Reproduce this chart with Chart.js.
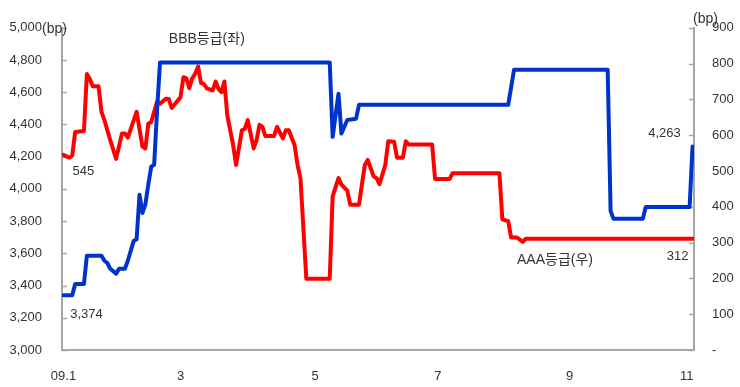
<!DOCTYPE html>
<html><head><meta charset="utf-8">
<script src="https://cdn.jsdelivr.net/npm/chart.js@4.4.1/dist/chart.umd.min.js"></script>
<style>html,body{margin:0;padding:0;background:#fff}</style>
</head><body>
<canvas id="c" width="740" height="387"></canvas>
<script>
// x values are business-day indices since the first trading day of 2009
const bbbDays   = [0,3,4,7,8,13,14,15,16,18,19,21,22,24,25,26,27,28,29,30,31,32,33,91,92,94,95,97,100,101,152,154,186,187,188,198,199,214,215];
const bbbValues = [3340,3340,3410,3410,3585,3585,3554,3540,3504,3474,3504,3504,3554,3677,3687,3964,3851,3904,4027,4138,4150,4489,4785,4785,4323,4590,4344,4428,4436,4522,4522,4740,4740,3862,3814,3814,3888,3888,4263];

const aaaDays   = [0,2,3,4,7,8,9,10,12,13,14,16,18,20,21,22,25,27,28,29,30,32,33,35,36,37,40,41,42,43,44,45,46,47,48,49,51,52,53,54,55,56,58,59,61,62,63,65,66,67,68,69,72,73,75,76,77,79,80,81,83,91,92,94,95,97,98,101,103,104,106,107,108,110,111,113,114,116,117,118,126,127,132,133,149,150,152,153,155,157,158,215];
const aaaValues = [545,537,543,609,612,771,757,737,737,665,642,586,534,605,605,593,665,568,563,632,637,694,688,702,701,676,706,762,759,731,759,771,792,746,743,731,725,750,729,720,750,655,572,517,614,618,642,563,586,629,623,598,598,623,591,614,614,572,517,480,199,199,429,480,462,445,406,406,517,531,485,480,463,517,583,582,537,537,583,574,574,478,478,494,494,365,360,314,314,302,311,311];

const seriesNames = ['BBB등급(좌)', 'AAA등급(우)'];
const tickDays   = [0, 40, 86, 128, 173, 213];
const tickLabels = ['09.1', '3', '5', '7', '9', '11'];
const unitLabel  = '(bp)';
const bbbFirstLabel = '3,374';
const bbbLastLabel  = '4,263';
const aaaFirstLabel = '545';
const aaaLastLabel  = '312';

const BLUE = '#0033cc', RED = '#ff0000', AXIS = '#a6a6a6', TXT = '#333333';
const FONT = '"Liberation Sans", Arial, "Noto Sans CJK KR", sans-serif';
const KFONT = '"Liberation Sans", "Noto Sans CJK KR", sans-serif';

const pts = (xs, ys) => xs.map((x, i) => ({x, y: ys[i]}));

const decor = {
  id: 'decor',
  beforeDatasetsDraw(chart) {
    const ctx = chart.ctx, a = chart.chartArea;
    const L = chart.scales.yL, R = chart.scales.yR;
    ctx.save();
    ctx.strokeStyle = AXIS; ctx.lineWidth = 1.5;
    L.ticks.forEach(t => { const y = Math.round(L.getPixelForValue(t.value)) + 0.5; ctx.beginPath(); ctx.moveTo(a.left, y); ctx.lineTo(a.left + 5, y); ctx.stroke(); });
    R.ticks.forEach(t => { const y = Math.round(R.getPixelForValue(t.value)) + 0.5; ctx.beginPath(); ctx.moveTo(a.right - 5, y); ctx.lineTo(a.right, y); ctx.stroke(); });
    ctx.restore();
  },
  afterDatasetsDraw(chart) {
    const ctx = chart.ctx, a = chart.chartArea;
    const X = chart.scales.x, L = chart.scales.yL, R = chart.scales.yR;
    ctx.save();
    ctx.fillStyle = TXT;
    ctx.textBaseline = 'middle';
    ctx.font = '14px ' + FONT;
    ctx.textAlign = 'left';
    ctx.fillText(unitLabel, a.left - 20, a.top + 1);
    ctx.textAlign = 'right';
    ctx.fillText(unitLabel, a.right + 24, a.top - 9);
    ctx.font = '13px ' + FONT;
    // value labels next to series endpoints
    ctx.textAlign = 'center';
    const bx0 = X.getPixelForValue(bbbDays[0]), by0 = L.getPixelForValue(bbbValues[0]);
    ctx.fillText(bbbFirstLabel, bx0 + 23, by0 + 19);
    const n = bbbDays.length - 1;
    const bx1 = X.getPixelForValue(bbbDays[n]), by1 = L.getPixelForValue(bbbValues[n]);
    ctx.fillText(bbbLastLabel, bx1 - 28, by1 - 13);
    const ax0 = X.getPixelForValue(aaaDays[0]), ay0 = R.getPixelForValue(aaaValues[0]);
    ctx.fillText(aaaFirstLabel, ax0 + 20, ay0 + 17);
    const m = aaaDays.length - 1;
    const ax1 = X.getPixelForValue(aaaDays[m]), ay1 = R.getPixelForValue(aaaValues[m]);
    ctx.fillText(aaaLastLabel, ax1 - 15, ay1 + 18);
    // series names
    ctx.font = '14px ' + KFONT;
    ctx.fillText(seriesNames[0], X.getPixelForValue(49), L.getPixelForValue(4930));
    ctx.fillText(seriesNames[1], X.getPixelForValue(168), R.getPixelForValue(250));
    ctx.restore();
  }
};

new Chart(document.getElementById('c'), {
  type: 'line',
  data: {
    datasets: [
      { label: seriesNames[0], data: pts(bbbDays, bbbValues), yAxisID: 'yL', borderColor: BLUE, order: 0 },
      { label: seriesNames[1], data: pts(aaaDays, aaaValues), yAxisID: 'yR', borderColor: RED, order: 1 }
    ]
  },
  options: {
    responsive: false, animation: false, devicePixelRatio: 1,
    layout: { padding: { top: 25, left: 0, right: 0, bottom: 0 } },
    plugins: { legend: { display: false }, tooltip: { enabled: false } },
    elements: {
      point: { radius: 0 },
      line: { tension: 0, borderWidth: 4, borderJoinStyle: 'round', borderCapStyle: 'round', fill: false }
    },
    scales: {
      x: {
        type: 'linear', min: -0.5, max: 215.5,
        grid: { display: false, drawTicks: false },
        border: { display: true, color: AXIS, width: 2 },
        afterBuildTicks: s => { s.ticks = tickDays.map(v => ({ value: v })); },
        afterFit: s => { s.height = 37; },
        ticks: {
          autoSkip: false, maxRotation: 0, padding: 19, color: TXT,
          font: { family: FONT, size: 13 },
          callback: v => tickLabels[tickDays.indexOf(v)]
        }
      },
      yL: {
        type: 'linear', position: 'left', min: 3000, max: 5000,
        grid: { display: false, drawTicks: false },
        border: { display: true, color: AXIS, width: 2 },
        afterFit: s => { s.width = 62; },
        ticks: {
          stepSize: 200, padding: 20, color: TXT,
          font: { family: FONT, size: 13 },
          callback: v => v.toLocaleString('en-US')
        }
      },
      yR: {
        type: 'linear', position: 'right', min: 0, max: 900,
        grid: { display: false, drawTicks: false },
        border: { display: true, color: AXIS, width: 2 },
        afterFit: s => { s.width = 46; },
        ticks: {
          stepSize: 100, padding: 18, color: TXT,
          font: { family: FONT, size: 13 },
          callback: v => v === 0 ? '-' : String(v)
        }
      }
    }
  },
  plugins: [decor]
});
</script>
</body></html>
